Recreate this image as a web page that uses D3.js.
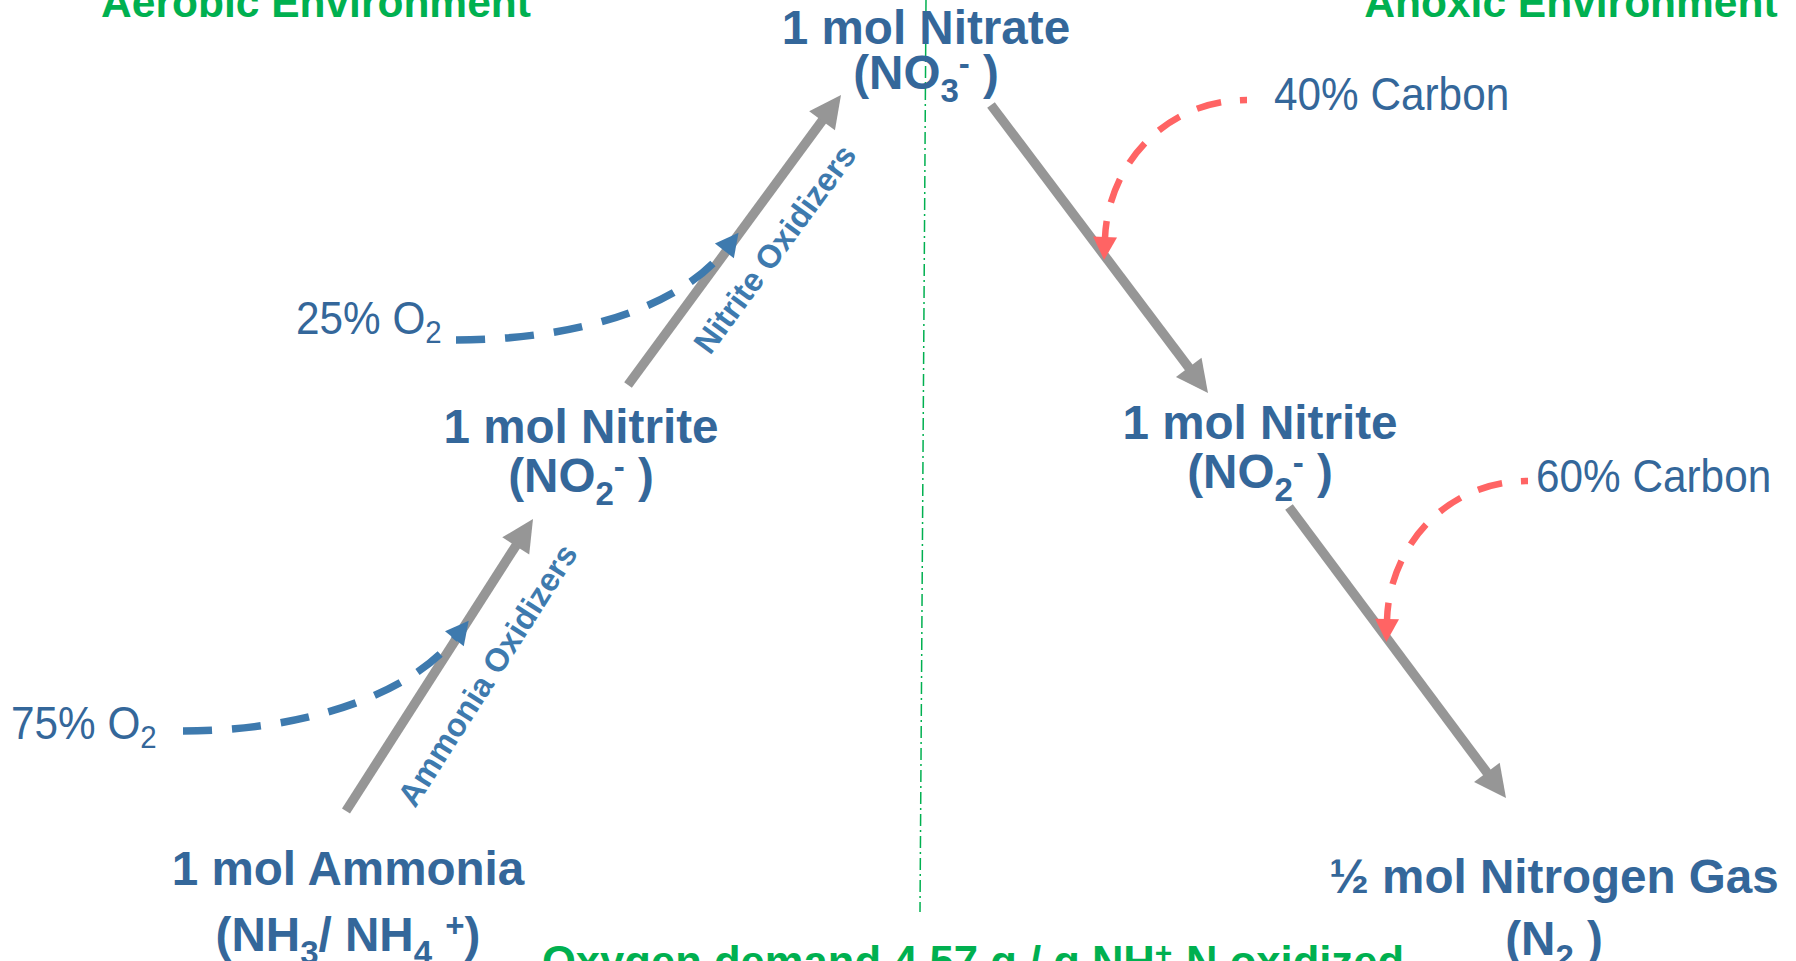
<!DOCTYPE html>
<html>
<head>
<meta charset="utf-8">
<script src="https://cdn.jsdelivr.net/npm/d3@7"></script>
<style>
html, body { margin: 0; padding: 0; background: #fff; overflow: hidden; }
text { font-family: "Liberation Sans", Arial, sans-serif; white-space: pre; }
</style>
</head>
<body>
<div id="canvas"></div>
<script>
// ----------------------------------------------------------
// DATA -----------------------------------------------------
// ----------------------------------------------------------
var node_ids = ["ammonia", "nitrite_aer", "nitrate", "nitrite_anox", "nitrogen"];
var node_titles = ["1 mol Ammonia", "1 mol Nitrite", "1 mol Nitrate", "1 mol Nitrite", "\u00bd mol Nitrogen Gas"];
// formula pieces: [text, "sub" | "sup" | undefined]
var node_formulas = [
[["(NH"], ["3", "sub"], ["/ NH"], ["4", "sub"], [" "], ["+", "sup"], [")"]],
[["(NO"], ["2", "sub"], ["-", "sup"], [" )"]],
[["(NO"], ["3", "sub"], ["-", "sup"], [" )"]],
[["(NO"], ["2", "sub"], ["-", "sup"], [" )"]],
[["(N"], ["2", "sub"], [" )"]]
];

var steps = [
["ammonia", "nitrite_aer"],
["nitrite_aer", "nitrate"],
["nitrate", "nitrite_anox"],
["nitrite_anox", "nitrogen"]
];
var process_labels = ["Ammonia Oxidizers", "Nitrite Oxidizers"];

var supply_share = [75, 25, 40, 60];
var supply_input = ["O2", "O2", "Carbon", "Carbon"];
var supply_step = [0, 1, 2, 3];

var environment_labels = ["Aerobic Environment", "Anoxic Environment"];
var oxygen_demand = 4.57;

// ----------------------------------------------------------
// LAYOUT ---------------------------------------------------
// ----------------------------------------------------------
var W = 1796, H = 961;
var font_node = 47.6, font_small = 32.5;

var color_blue = "#34679a";
var color_blue_light = "#3e7aae";
var color_green = "#00b050";
var color_red = "#ff6464";
var color_gray = "#969696";

// node anchors (centre x, baseline of the title line, baseline of the formula line)
var xNode = d3.scaleOrdinal().domain(node_ids).range([348, 581, 926, 1260, 1554]);
var yTitle = d3.scaleOrdinal().domain(node_ids).range([885, 443, 44, 439, 893]);
var yFormula = d3.scaleOrdinal().domain(node_ids).range([951, 492, 89, 488, 955]);

// arrow ends relative to the node anchors
var step_layout = [
{ from: [-2, -74], to: [-48, 76] },
{ from: [47, -58], to: [-85, 51] },
{ from: [65, 61], to: [-52, -46] },
{ from: [29, 68], to: [-48, -95] }
];
// label along / away from the arrow
var process_layout = [
{ along: 39, normal: 57 },
{ along: 72, normal: 49 }
];
// supply labels and curves
var supply_layout = [
{ label: [11, 739], curve: [[183, 731], [300, 731], [408, 697], [455, 638]] },
{ label: [296, 334], curve: [[456, 340], [570, 340], [678, 310], [725, 250]] },
{ label: [1274, 110], curve: [[1247, 100], [1165, 100], [1108, 165], [1105, 238]] },
{ label: [1536, 492], curve: [[1528, 481], [1445, 481], [1389, 548], [1387, 620]] }
];
var unit_parts = {
O2: [["O"], ["2", "sub"]],
Carbon: [["Carbon"]]
};

// ----------------------------------------------------------
// STRUCTURE ------------------------------------------------
// ----------------------------------------------------------
var container = d3.select("#canvas").append("svg")
.attr("width", W)
.attr("height", H)
.style("background-color", "#fff");

var layout_group = container.append("g").attr("class", "layout_group");
var gfx_group = container.append("g").attr("class", "gfx_group");
var text_group = container.append("g").attr("class", "text_group");

// helpers
function unit(v) {
var l = Math.sqrt(v[0] * v[0] + v[1] * v[1]);
return [v[0] / l, v[1] / l];
}
function headPoints(tip, dir, len, half) {
var nx = -dir[1], ny = dir[0];
return [
[tip[0], tip[1]],
[tip[0] - dir[0] * len + nx * half, tip[1] - dir[1] * len + ny * half],
[tip[0] - dir[0] * len - nx * half, tip[1] - dir[1] * len - ny * half]
];
}
// write pieces with sub / superscripts into a text element
function addParts(sel, parts, small, subShift, supShift) {
var shift = 0;
parts.forEach(function (p) {
var target = p[1] === "sub" ? subShift : (p[1] === "sup" ? -supShift : 0);
var t = sel.append("tspan")
.attr("dy", target - shift)
.text(p[0]);
if (p[1]) t.attr("font-size", small);
if (p[2] === "stack") {
var prev = t.node().previousSibling;
t.attr("dx", -prev.getComputedTextLength());
}
shift = target;
});
}

// ----------------------------------------------------------
// GFX ------------------------------------------------------
// ----------------------------------------------------------

// divider between environments
layout_group.append("line")
.attr("x1", 926).attr("y1", 0)
.attr("x2", 920).attr("y2", 912)
.attr("stroke", color_green)
.attr("stroke-width", 1.5)
.attr("stroke-dasharray", "12,4,2,4");

// reaction arrows
var step_geo = steps.map(function (s, i) {
var a = s[0], b = s[1];
var p0 = [xNode(a) + step_layout[i].from[0], yTitle(a) + step_layout[i].from[1]];
var tip = [xNode(b) + step_layout[i].to[0], yTitle(b) + step_layout[i].to[1]];
var dir = unit([tip[0] - p0[0], tip[1] - p0[1]]);
return { p0: p0, tip: tip, dir: dir };
});

var arrows = gfx_group.selectAll(".step")
.data(step_geo)
.enter()
.append("g")
.attr("class", "step");

arrows.append("line")
.attr("x1", function (d) { return d.p0[0]; })
.attr("y1", function (d) { return d.p0[1]; })
.attr("x2", function (d) { return d.tip[0] - d.dir[0] * 28; })
.attr("y2", function (d) { return d.tip[1] - d.dir[1] * 28; })
.attr("stroke", color_gray)
.attr("stroke-width", 9.5);

arrows.append("polygon")
.attr("points", function (d) { return headPoints(d.tip, d.dir, 32, 16).join(" "); })
.attr("fill", color_gray);

// supply curves (oxygen / carbon)
var supplies = gfx_group.selectAll(".supply")
.data(supply_share.map(function (v, i) {
var c = supply_layout[i].curve;
var dir = unit([c[3][0] - c[2][0], c[3][1] - c[2][1]]);
var tip = [c[3][0] + dir[0] * 22, c[3][1] + dir[1] * 22];
return { value: v, input: supply_input[i], curve: c, dir: dir, tip: tip };
}))
.enter()
.append("g")
.attr("class", "supply");

supplies.append("path")
.attr("d", function (d) {
var p = d3.path(), c = d.curve;
p.moveTo(c[0][0], c[0][1]);
p.bezierCurveTo(c[1][0], c[1][1], c[2][0], c[2][1], c[3][0], c[3][1]);
return p.toString();
})
.attr("fill", "none")
.attr("stroke", function (d) { return d.input === "O2" ? color_blue_light : color_red; })
.attr("stroke-width", function (d) { return d.input === "O2" ? 7.5 : 6.5; })
.attr("stroke-dasharray", function (d) { return d.input === "O2" ? "29,20" : "25,19"; })
.attr("stroke-dashoffset", function (d) { return d.input === "O2" ? 0 : 18; });

supplies.append("polygon")
.attr("points", function (d) { return headPoints(d.tip, d.dir, 23, 12).join(" "); })
.attr("fill", function (d) { return d.input === "O2" ? color_blue_light : color_red; });

// ----------------------------------------------------------
// TEXT -----------------------------------------------------
// ----------------------------------------------------------

// environment headings
text_group.selectAll(".env")
.data(environment_labels)
.enter()
.append("text")
.attr("class", "env")
.attr("x", function (d, i) { return [316, 1571][i]; })
.attr("y", 17)
.attr("text-anchor", "middle")
.attr("font-size", 42.5)
.attr("font-weight", "bold")
.attr("fill", color_green)
.text(function (d) { return d; });

// node titles
text_group.selectAll(".node_title")
.data(node_ids)
.enter()
.append("text")
.attr("class", "node_title")
.attr("x", function (d) { return xNode(d); })
.attr("y", function (d) { return yTitle(d); })
.attr("text-anchor", "middle")
.attr("font-size", font_node)
.attr("font-weight", "bold")
.attr("fill", color_blue)
.text(function (d, i) { return node_titles[i]; });

// node formulas
text_group.selectAll(".node_formula")
.data(node_ids)
.enter()
.append("text")
.attr("class", "node_formula")
.attr("x", function (d) { return xNode(d); })
.attr("y", function (d) { return yFormula(d); })
.attr("text-anchor", "middle")
.attr("font-size", font_node)
.attr("font-weight", "bold")
.attr("fill", color_blue)
.each(function (d, i) {
addParts(d3.select(this), node_formulas[i], 33, 13, 14);
});

// process labels along the aerobic arrows
process_labels.forEach(function (label, i) {
var g = step_geo[i];
var n = [-g.dir[1], g.dir[0]];
if (n[0] < 0) n = [-n[0], -n[1]];
var sx = g.p0[0] + g.dir[0] * process_layout[i].along + n[0] * process_layout[i].normal;
var sy = g.p0[1] + g.dir[1] * process_layout[i].along + n[1] * process_layout[i].normal;
var angle = Math.atan2(g.dir[1], g.dir[0]) * 180 / Math.PI;
text_group.append("text")
.attr("class", "process")
.attr("transform", `translate(${sx}, ${sy}) rotate(${angle})`)
.attr("font-size", font_small)
.attr("font-weight", "bold")
.attr("fill", color_blue_light)
.text(label);
});

// supply labels (slightly condensed like the original)
supply_share.forEach(function (v, i) {
var pos = supply_layout[i].label;
var t = text_group.append("text")
.attr("class", "supply_label")
.attr("transform", `translate(${pos[0]}, ${pos[1]}) scale(0.92, 1)`)
.attr("font-size", 46)
.attr("fill", color_blue);
addParts(t, [[v + "% "]].concat(unit_parts[supply_input[i]]), 32, 9, 14);
});

// oxygen demand footnote
var foot = text_group.append("text")
.attr("class", "footer")
.attr("x", 973)
.attr("y", 977)
.attr("text-anchor", "middle")
.attr("font-size", 43.6)
.attr("font-weight", "bold")
.attr("fill", color_green);
addParts(foot, [
["Oxygen demand " + oxygen_demand + " g / g NH"],
["+", "sup"],
["4", "sub", "stack"],
["-N oxidized"]
], 30, 12, 14);
</script>
</body>
</html>
